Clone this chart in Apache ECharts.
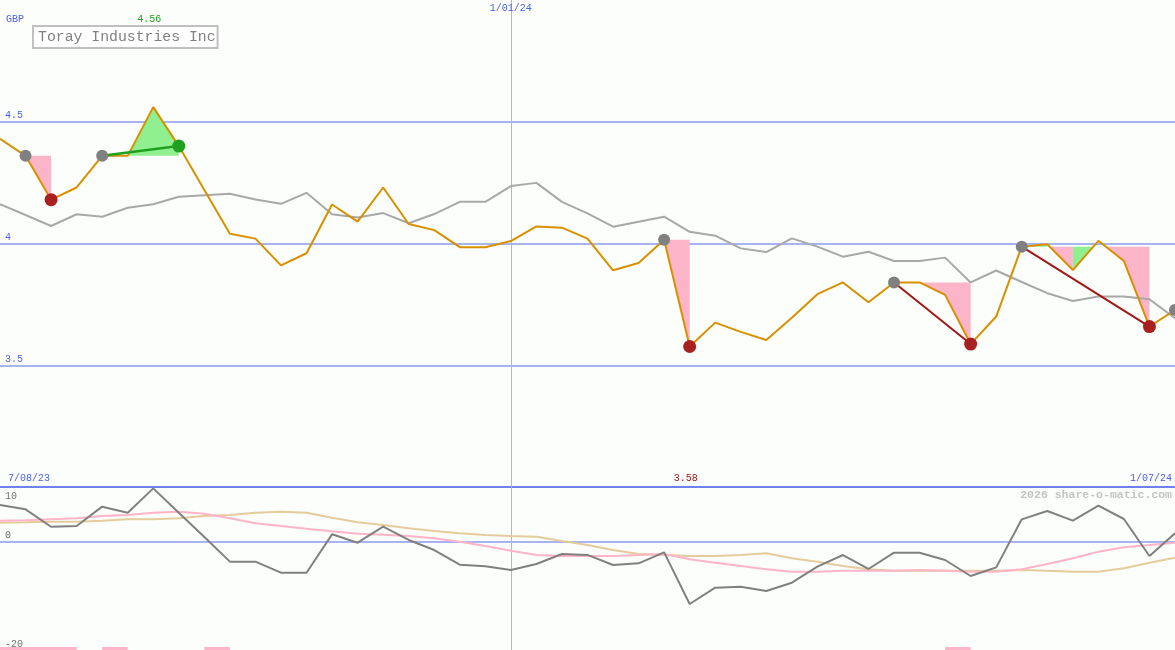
<!DOCTYPE html>
<html><head><meta charset="utf-8">
<script src="https://cdn.jsdelivr.net/npm/echarts@6/dist/echarts.min.js"></script>
<style>html,body{margin:0;padding:0;background:#fbfefb}#c{width:1175px;height:650px}</style>
</head><body><div id="c"></div><script>
// ---- data ----
const categories = ['11/08/23','18/08/23','25/08/23','1/09/23','8/09/23','15/09/23','22/09/23','29/09/23','6/10/23','13/10/23','20/10/23','27/10/23','3/11/23','10/11/23','17/11/23','24/11/23','1/12/23','8/12/23','15/12/23','22/12/23','29/12/23','5/01/24','12/01/24','19/01/24','26/01/24','2/02/24','9/02/24','16/02/24','23/02/24','1/03/24','8/03/24','15/03/24','22/03/24','29/03/24','5/04/24','12/04/24','19/04/24','26/04/24','3/05/24','10/05/24','17/05/24','24/05/24','31/05/24','7/06/24','14/06/24','21/06/24','28/06/24'];
const price = [4.43,4.36,4.18,4.23,4.36,4.36,4.56,4.40,4.22,4.04,4.02,3.91,3.96,4.16,4.09,4.23,4.08,4.055,3.985,3.985,4.01,4.07,4.065,4.02,3.89,3.92,4.015,3.577,3.675,3.637,3.604,3.695,3.792,3.84,3.759,3.84,3.84,3.789,3.587,3.70,3.987,3.997,3.891,4.011,3.928,3.659,3.727];
const movingAvg = [4.162,4.117,4.072,4.12,4.11,4.147,4.161,4.192,4.198,4.204,4.181,4.163,4.208,4.12,4.107,4.125,4.083,4.121,4.171,4.171,4.236,4.249,4.171,4.124,4.069,4.089,4.11,4.048,4.032,3.98,3.965,4.021,3.987,3.946,3.966,3.928,3.928,3.942,3.84,3.889,3.842,3.796,3.764,3.782,3.782,3.771,3.693];
const momentum = [6.69,5.89,2.69,2.82,6.38,5.27,9.75,5.27,0.8,-3.74,-3.74,-5.77,-5.77,1.29,-0.25,2.69,0.25,-1.6,-4.3,-4.6,-5.28,-4.17,-2.33,-2.5,-4.36,-4.05,-2.03,-11.53,-8.53,-8.35,-9.14,-7.61,-4.67,-2.52,-5.09,-2.09,-2.09,-3.44,-6.38,-4.79,4.05,5.58,3.8,6.56,4.11,-2.7,1.47];
const signal = [3.8,3.87,4.05,4.23,4.66,4.85,5.27,5.46,5.09,4.23,3.31,2.82,2.33,1.84,1.4,1.22,0.98,0.55,-0.06,-0.86,-1.72,-2.52,-2.7,-2.7,-2.7,-2.52,-2.33,-3.31,-3.93,-4.54,-5.15,-5.59,-5.59,-5.4,-5.4,-5.4,-5.28,-5.4,-5.59,-5.59,-5.15,-4.17,-3.13,-1.9,-1.1,-0.68,-0.25];
const slow = [3.43,3.5,3.62,3.62,3.8,4.05,4.05,4.23,4.66,4.85,5.27,5.46,5.27,4.35,3.5,3.0,2.39,1.9,1.47,1.17,0.98,0.86,0.06,-0.68,-1.6,-2.33,-2.52,-2.7,-2.7,-2.52,-2.21,-3.13,-3.74,-4.54,-5.15,-5.4,-5.4,-5.4,-5.4,-5.4,-5.28,-5.4,-5.59,-5.59,-4.97,-3.93,-3.01];
const pivotHighs = [1,4,26,35,40,46];
const pivotLows = [2,27,38,45];
const breakoutHighs = [7];
const upTrends = [[4,7]];
const downTrends = [[35,38],[40,45]];
const fillStart  = [1,4,26,35,40,41,42,43];
const fillEnd    = [2,7,27,38,41,42,43,45];
const fillBaseAt = [1,4,26,35,40,40,40,40];
const fillSide   = ['below','above','below','below','above','below','below','below'];
const fillKind   = ['down','up','down','down','up','down','up','down'];
const alertBars = [[0,3],[4,5],[8,9],[37,38]];
const alertBarHeight = 0.55;
const yearMarkIndex = 20;
const priceTicks = {min:3, max:5, interval:0.5};
const oscTicks = {min:-20, max:10, interval:10};
const texts = {currency:'GBP', company:'Toray Industries Inc', start:'7/08/23', yearMark:'1/01/24', end:'1/07/24', credit:'2026 share-o-matic.com'};

// ---- styles ----
const MONO = '"Liberation Mono", "DejaVu Sans Mono", monospace';
const BLUE_TXT = '#5060e8';
const GRID_LIGHT = '#a8b4f0';
const GRID_DARK = '#7080f0';
const NONE = 'rgba(0,0,0,0)';

const chart = echarts.init(document.getElementById('c'), null, {renderer:'canvas'});

function renderFill(params, api){
  const k = params.dataIndex;
  const s = fillStart[k], e = fillEnd[k], b = price[fillBaseAt[k]], side = fillSide[k];
  const clamp = v => side === 'below' ? Math.min(v, b) : Math.max(v, b);
  const pts = [api.coord([s, b])];
  for (let i = s; i <= e; i++) {
    pts.push(api.coord([i, clamp(price[i])]));
    if (i < e) {
      const d0 = price[i] - b, d1 = price[i+1] - b;
      if (d0 * d1 < 0) {
        const t = d0 / (d0 - d1);
        const a = api.coord([i, b]), c = api.coord([i+1, b]);
        pts.push([a[0] + (c[0]-a[0]) * t, a[1]]);
      }
    }
  }
  pts.push(api.coord([e, b]));
  return {type:'polygon', shape:{points:pts}, style:{fill: fillKind[k] === 'up' ? '#90f090' : '#fcb4c8'}};
}
function renderAlert(params, api){
  const s = api.value(0), e = api.value(1);
  const p0 = api.coord([s, oscTicks.min]);
  const p1 = api.coord([e, oscTicks.min + alertBarHeight]);
  return {type:'rect', shape:{x:p0[0], y:p1[1], width:p1[0]-p0[0], height:p0[1]-p1[1]}, style:{fill:'#fcb4c8'}};
}

const lineSeries = (name, data, color, width, xi, yi, z) => ({
  name, type:'line', data, xAxisIndex:xi, yAxisIndex:yi, symbol:'none', z,
  lineStyle:{color, width}, silent:true
});

const option = {
  animation:false,
  backgroundColor:'#fbfefb',
  grid:[
    {left:0, right:0, top:0, height:487, outerBoundsMode:'none', containLabel:false},
    {left:0, right:0, top:487, height:163, outerBoundsMode:'none', containLabel:false}
  ],
  xAxis:[
    {type:'category', gridIndex:0, data:categories, boundaryGap:false, position:'top',
     axisLine:{show:false}, axisTick:{show:false},
     axisLabel:{inside:true, margin:3, interval:(i)=> i===yearMarkIndex, formatter:()=>texts.yearMark,
       color:BLUE_TXT, fontFamily:MONO, fontSize:10},
     splitLine:{show:true, interval:(i)=> i===yearMarkIndex, lineStyle:{color:GRID_LIGHT, width:1}}},
    {type:'category', gridIndex:1, data:categories, boundaryGap:false,
     axisLine:{show:false}, axisTick:{show:false}, axisLabel:{show:false},
     splitLine:{show:true, interval:(i)=> i===yearMarkIndex, lineStyle:{color:GRID_LIGHT, width:1}}}
  ],
  yAxis:[
    {type:'value', gridIndex:0, position:'left', min:priceTicks.min, max:priceTicks.max, interval:priceTicks.interval,
     axisLine:{show:false}, axisTick:{show:false},
     axisLabel:{inside:true, margin:5, align:'left', verticalAlign:'bottom', lineHeight:12,
       color:BLUE_TXT, fontFamily:MONO, fontSize:10,
       formatter:(v)=> (v===priceTicks.min || v===priceTicks.max) ? '' : String(v)},
     splitLine:{show:true, lineStyle:{color:[GRID_DARK, GRID_LIGHT, GRID_LIGHT, GRID_LIGHT, NONE], width:2}}},
    {type:'value', gridIndex:1, position:'left', min:oscTicks.min, max:oscTicks.max, interval:oscTicks.interval,
     axisLine:{show:false}, axisTick:{show:false},
     axisLabel:{inside:true, margin:5, align:'left', verticalAlign:'bottom', lineHeight:12,
       color:'#707070', fontFamily:MONO, fontSize:10,
       formatter:(v)=> (v===0 || v===oscTicks.min) ? String(v) : ''},
     splitLine:{show:true, lineStyle:{color:[NONE, NONE, GRID_LIGHT, NONE], width:2}}},
    {type:'value', gridIndex:1, position:'left', offset:0, min:oscTicks.min, max:oscTicks.max, interval:oscTicks.interval,
     axisLine:{show:false}, axisTick:{show:false}, splitLine:{show:false},
     axisLabel:{inside:true, margin:5, align:'left', verticalAlign:'top', lineHeight:18,
       color:'#707070', fontFamily:MONO, fontSize:10,
       formatter:(v)=> v===oscTicks.max ? String(v) : ''}}
  ],
  series:[
    {type:'custom', xAxisIndex:0, yAxisIndex:0, z:1, silent:true, renderItem:renderFill,
     data:fillStart.map((s,k)=>[s, fillEnd[k], price[fillBaseAt[k]]]), encode:{x:[0,1], y:2}},
    lineSeries('avg', movingAvg, '#a8a8a8', 2, 0, 0, 2),
    lineSeries('price', price, '#d89000', 2, 0, 0, 3),
    ...upTrends.map(t => lineSeries('up', t.map(i=>[i, price[i]]), '#20a020', 2.5, 0, 0, 4)),
    ...downTrends.map(t => lineSeries('down', t.map(i=>[i, price[i]]), '#a01818', 2, 0, 0, 4)),
    {type:'scatter', xAxisIndex:0, yAxisIndex:0, z:5, silent:true, symbol:'circle', symbolSize:12,
     itemStyle:{color:'#808080', opacity:1}, data:pivotHighs.map(i=>[i, price[i]])},
    {type:'scatter', xAxisIndex:0, yAxisIndex:0, z:5, silent:true, symbol:'circle', symbolSize:13,
     itemStyle:{color:'#a82020', opacity:1}, data:pivotLows.map(i=>[i, price[i]])},
    {type:'scatter', xAxisIndex:0, yAxisIndex:0, z:5, silent:true, symbol:'circle', symbolSize:13,
     itemStyle:{color:'#20a020', opacity:1}, data:breakoutHighs.map(i=>[i, price[i]])},
    {type:'custom', xAxisIndex:1, yAxisIndex:1, z:1, silent:true, renderItem:renderAlert,
     data:alertBars, encode:{x:[0,1]}},
    lineSeries('slow', slow, '#e4cc9c', 2, 1, 1, 2),
    lineSeries('signal', signal, '#ffb4c8', 2, 1, 1, 3),
    lineSeries('momentum', momentum, '#808080', 2, 1, 1, 4)
  ]
};
chart.setOption(option);

// labels positioned from the axis scales
const maxVal = Math.max(...price), minVal = Math.min(...price);
const maxIdx = price.indexOf(maxVal), minIdx = price.indexOf(minVal);
const maxPx = chart.convertToPixel({xAxisIndex:0, yAxisIndex:0}, [maxIdx, maxVal]);
const minPx = chart.convertToPixel({xAxisIndex:0, yAxisIndex:0}, [minIdx, minVal]);
const fontOf = (size, bold) => (bold ? 'bold ' : '') + size + 'px ' + MONO;
chart.setOption({
  graphic:[
    {type:'text', left:6, top:14, silent:true, style:{text:texts.currency, fill:BLUE_TXT, font:fontOf(10)}},
    {type:'text', x:maxPx[0]-4, y:14, silent:true, style:{text:maxVal.toFixed(2), fill:'#20a020', font:fontOf(10), align:'center', textAlign:'center'}},
    {type:'text', left:32, top:25, silent:true, z:10, style:{text:texts.company, fill:'#808080', font:fontOf(14.8),
      backgroundColor:'#ffffff', borderColor:'#c0c0c0', borderWidth:2, padding:[3,1,2,4]}},
    {type:'text', x:minPx[0]-4, y:473, silent:true, style:{text:minVal.toFixed(2), fill:'#a01818', font:fontOf(10), align:'center', textAlign:'center'}},
    {type:'text', left:8, top:473, silent:true, style:{text:texts.start, fill:BLUE_TXT, font:fontOf(10)}},
    {type:'text', right:3, top:473, silent:true, style:{text:texts.end, fill:BLUE_TXT, font:fontOf(10)}},
    {type:'text', right:3, top:489, silent:true, style:{text:texts.credit, fill:'#c4c4c4', font:fontOf(11.5, true)}}
  ]
});
</script></body></html>
